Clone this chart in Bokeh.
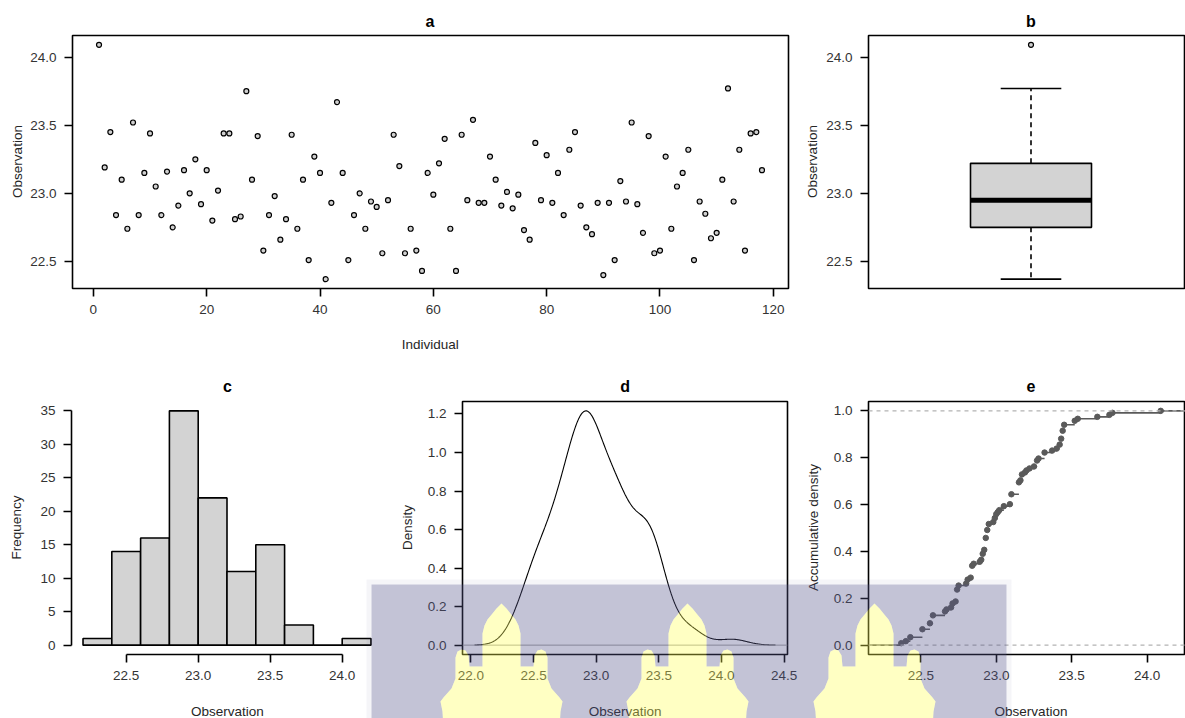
import numpy as np
from bokeh.plotting import figure
from bokeh.layouts import column, row
from bokeh.models import FixedTicker, Span, Range1d, NumeralTickFormatter, GridBox
from bokeh.core.properties import value
from bokeh.embed import file_html
from bokeh.resources import INLINE

# ---------------- data ----------------
observations = [
    24.09, 23.19, 23.45, 22.84, 23.10, 22.74, 23.52, 22.84, 23.15, 23.44,
    23.05, 22.84, 23.16, 22.75, 22.91, 23.17, 23.00, 23.25, 22.92, 23.17,
    22.80, 23.02, 23.44, 23.44, 22.81, 22.83, 23.75, 23.10, 23.42, 22.58,
    22.84, 22.98, 22.66, 22.81, 23.43, 22.74, 23.10, 22.51, 23.27, 23.15,
    22.37, 22.93, 23.67, 23.15, 22.51, 22.84, 23.00, 22.74, 22.94, 22.90,
    22.56, 22.95, 23.43, 23.20, 22.56, 22.74, 22.58, 22.43, 23.15, 22.99,
    23.22, 23.40, 22.74, 22.43, 23.43, 22.95, 23.54, 22.93, 22.93, 23.27,
    23.10, 22.91, 23.01, 22.89, 22.99, 22.73, 22.66, 23.37, 22.95, 23.28,
    22.93, 23.15, 22.84, 23.32, 23.45, 22.91, 22.75, 22.70, 22.93, 22.40,
    22.93, 22.51, 23.09, 22.94, 23.52, 22.92, 22.71, 23.42, 22.56, 22.58,
    23.27, 22.74, 23.05, 23.15, 23.32, 22.51, 22.94, 22.85, 22.67, 22.71,
    23.10, 23.77, 22.94, 23.32, 22.58, 23.44, 23.45, 23.17,
]
individuals = list(range(1, len(observations) + 1))

# boxplot statistics (lower whisker, Q1, median, Q3, upper whisker) and outliers
box_stats = [22.37, 22.75, 22.95, 23.22, 23.77]
box_outliers = [24.09]

# histogram
hist_breaks = [22.2, 22.4, 22.6, 22.8, 23.0, 23.2, 23.4, 23.6, 23.8, 24.0, 24.2]
hist_counts = [1, 14, 16, 35, 22, 11, 15, 3, 0, 1]

# tick values
a_xticks = [0, 20, 40, 60, 80, 100, 120]
obs_ticks = [22.5, 23.0, 23.5, 24.0]
c_xticks = [22.5, 23.0, 23.5, 24.0]
c_yticks = [0, 5, 10, 15, 20, 25, 30, 35]
d_xticks = [22.0, 22.5, 23.0, 23.5, 24.0, 24.5]
d_yticks = [0.0, 0.2, 0.4, 0.6, 0.8, 1.0, 1.2]
e_xticks = [22.5, 23.0, 23.5, 24.0]
e_yticks = [0.0, 0.2, 0.4, 0.6, 0.8, 1.0]

panel_titles = ["a", "b", "c", "d", "e"]
x_titles = ["Individual", "Observation", "Observation", "Observation"]
y_titles = ["Observation", "Observation", "Frequency", "Density", "Accumulative density"]

FONT = "Liberation Sans"
TICK_COLOR = "#333333"
TXT = "13.5px"
obs = np.array(observations)
W, H = 1185, 718


def ext(lo, hi, f=0.04):
    d = (hi - lo) * f
    return lo - d, hi + d


def style(p, outline=True):
    p.background_fill_color = "white"
    p.border_fill_color = "white"
    p.grid.visible = False
    p.outline_line_color = "black" if outline else None
    p.outline_line_width = 1.6
    for ax in (p.xaxis[0], p.yaxis[0]):
        ax.axis_line_color = None if outline else "black"
        ax.axis_line_width = 1.6
        ax.major_tick_line_color = "black"
        ax.major_tick_line_width = 1.6
        ax.major_tick_out = 8
        ax.major_tick_in = 0
        ax.minor_tick_line_color = None
        ax.major_label_text_font = FONT
        ax.major_label_text_font_size = TXT
        ax.major_label_text_color = TICK_COLOR
        ax.major_label_standoff = 8


def make_fig(w, h, l, r, t, b, xr, yr, outline=True):
    p = figure(width=w, height=h, min_border_left=l, min_border_right=r,
               min_border_top=t, min_border_bottom=b, x_range=Range1d(*xr),
               y_range=Range1d(*yr), output_backend="svg", toolbar_location=None)
    style(p, outline)
    return p

obs_range = ext(obs.min(), obs.max())

# ---------------- panel a ----------------
pa = make_fig(800, 360, 72, 12, 35, 72, ext(1, len(observations)), obs_range)
pa.scatter(individuals, observations, size=5, fill_color="#777777", fill_alpha=0.35,
           line_color="black", line_width=1.2)
pa.xaxis.ticker = FixedTicker(ticks=a_xticks)
pa.yaxis.ticker = FixedTicker(ticks=obs_ticks)
pa.yaxis.formatter = NumeralTickFormatter(format="0.0")

# ---------------- panel b ----------------
b_full = 325.0
pb = make_fig(385, 360, 68, 0, 35, 72, (0.5, 0.5 + 317 / b_full), obs_range)
lw, q1, med, q3, uw = box_stats
bh = 60.5 / b_full
ch = 30.3 / b_full
pb.segment(x0=[1, 1], y0=[q3, q1], x1=[1, 1], y1=[uw, lw], line_color="black",
           line_width=1.6, line_dash="5 4")
pb.segment(x0=[1 - ch, 1 - ch], y0=[uw, lw], x1=[1 + ch, 1 + ch], y1=[uw, lw],
           line_color="black", line_width=1.6)
pb.quad(left=[1 - bh], right=[1 + bh], bottom=[q1], top=[q3], fill_color="#D3D3D3",
        line_color="black", line_width=1.6)
pb.segment(x0=[1 - bh], y0=[med], x1=[1 + bh], y1=[med], line_color="black", line_width=5)
pb.scatter([1] * len(box_outliers), box_outliers, size=5, fill_color="#777777",
           fill_alpha=0.35, line_color="black", line_width=1.2)
pb.xaxis.visible = False
pb.yaxis.ticker = FixedTicker(ticks=obs_ticks)
pb.yaxis.formatter = NumeralTickFormatter(format="0.0")

# ---------------- panel c ----------------
pc = make_fig(400, 358, 71, 18, 41, 64, ext(hist_breaks[0], hist_breaks[-1]),
              ext(0, max(hist_counts)), outline=False)
pc.quad(left=hist_breaks[:-1], right=hist_breaks[1:], bottom=0, top=hist_counts,
        fill_color="#D3D3D3", line_color="black", line_width=1.6)
pc.xaxis.ticker = FixedTicker(ticks=c_xticks)
pc.xaxis.formatter = NumeralTickFormatter(format="0.0")
pc.xaxis.bounds = (c_xticks[0], c_xticks[-1])
pc.yaxis.ticker = FixedTicker(ticks=c_yticks)
pc.yaxis.bounds = (c_yticks[0], c_yticks[-1])

# ---------------- panel d (kernel density, R default bw.nrd0) ----------------
n = len(obs)
iqr = np.percentile(obs, 75) - np.percentile(obs, 25)
bw = 0.9 * min(obs.std(ddof=1), iqr / 1.34) * n ** -0.2
dens_x = np.linspace(obs.min() - 3 * bw, obs.max() + 3 * bw, 512)
dens_y = np.exp(-0.5 * ((dens_x[:, None] - obs[None, :]) / bw) ** 2).sum(axis=1) / (n * bw * np.sqrt(2 * np.pi))
pd_ = make_fig(400, 358, 62, 13, 41, 64, ext(dens_x[0], dens_x[-1]), ext(0, dens_y.max()))
pd_.add_layout(Span(location=0, dimension="width", line_color="#a0a0a0", line_width=1))
pd_.line(dens_x, dens_y, line_color="black", line_width=1.1)
pd_.xaxis.ticker = FixedTicker(ticks=d_xticks)
pd_.xaxis.formatter = NumeralTickFormatter(format="0.0")
pd_.yaxis.ticker = FixedTicker(ticks=d_yticks)
pd_.yaxis.formatter = NumeralTickFormatter(format="0.0")

# ---------------- panel e (empirical CDF) ----------------
knots = np.unique(obs)
fvals = np.array([(obs <= k).sum() / n for k in knots])
dr = max(0.08 * (knots[-1] - knots[0]), np.median(np.diff(knots)))
e_lo, e_hi = ext(knots[0] - dr, knots[-1] + dr)
e_full = 325.0
pe = make_fig(385, 358, 68, 0, 41, 64, (e_lo, e_lo + (e_hi - e_lo) * 317 / e_full), ext(0, 1))
for lvl in (0, 1):
    pe.add_layout(Span(location=lvl, dimension="width", line_color="#B3B3B3",
                       line_width=1.3, line_dash="4 4"))
seg_x0 = np.concatenate([[e_lo], knots])
seg_x1 = np.concatenate([knots, [e_hi]])
seg_y = np.concatenate([[0.0], fvals])
pe.segment(x0=seg_x0, y0=seg_y, x1=seg_x1, y1=seg_y, line_color="#5a5a5a", line_width=1.6)
pe.scatter(knots, fvals, size=5.5, fill_color="#5a5a5a", line_color="#5a5a5a")
pe.xaxis.ticker = FixedTicker(ticks=e_xticks)
pe.xaxis.formatter = NumeralTickFormatter(format="0.0")
pe.yaxis.ticker = FixedTicker(ticks=e_yticks)
pe.yaxis.formatter = NumeralTickFormatter(format="0.0")

main = column(row(pa, pb), row(pc, pd_, pe))

# ---------------- transparent overlay: panel titles, axis titles, watermark ----------------
ov = figure(width=W, height=H, x_range=Range1d(0, W), y_range=Range1d(H, 0),
            min_border=0, output_backend="svg", toolbar_location=None)
ov.axis.visible = False
ov.grid.visible = False
ov.outline_line_color = None
ov.background_fill_color = None
ov.border_fill_color = None

title_x = [429.5, 1030.5, 226.9, 624.7, 1030.5]
title_y = [20.5, 20.5, 386, 385.5, 385.5]
ov.text(x=title_x, y=title_y, text=panel_titles, text_font=value(FONT),
        text_font_size=value("16px"), text_font_style="bold", text_color="black",
        text_align="center", text_baseline="middle")
ov.text(x=[429.7, 226.9, 624.7, 1030.5], y=[343.5, 710.5, 710.5, 710.5], text=x_titles,
        text_font=value(FONT), text_font_size=value(TXT), text_color="#262626",
        text_align="center", text_baseline="middle")
ov.text(x=[16.7, 812.3, 16, 406.7, 813.3], y=[161, 161, 527, 527, 527], text=y_titles,
        angle=np.pi / 2, text_font=value(FONT), text_font_size=value(TXT),
        text_color="#262626", text_align="center", text_baseline="middle")

leaf_half = [(0, 0), (5, 5), (9, 10), (14, 16), (17, 22), (19, 30), (19, 45), (19, 63),
             (32, 63), (33, 52), (36, 47), (40, 46), (44, 48), (46, 54), (46, 75),
             (50, 85), (58, 94), (61, 98), (59, 108), (58, 125)]
leaf_centers = [874, 687, 501]
leaf_top = 603
wm_box = (371, 584, 1006, 725)

# soft light rim around the watermark
rim = 5
ov.quad(left=[wm_box[0] - rim, wm_box[0] - rim, wm_box[2]],
        right=[wm_box[2] + rim, wm_box[0], wm_box[2] + rim],
        top=[wm_box[1] - rim, wm_box[1], wm_box[1]],
        bottom=[wm_box[1], wm_box[3], wm_box[3]],
        fill_color="#54548a", fill_alpha=0.06, line_color=None)

lav = [(wm_box[0], wm_box[1]), (wm_box[2], wm_box[1]), (wm_box[2], wm_box[3])]
leaves = []
for cx in leaf_centers:
    right_up = [(cx + dx, leaf_top + dy) for dx, dy in reversed(leaf_half)]
    left_down = [(cx - dx, leaf_top + dy) for dx, dy in leaf_half[1:]]
    lav += right_up + left_down
    leaves.append(right_up + left_down)
lav.append((wm_box[0], wm_box[3]))

ov.patch([x for x, _ in lav], [y for _, y in lav], fill_color="#54548a", fill_alpha=0.35,
         line_color=None)
ov.patches([[x for x, _ in lf] for lf in leaves], [[y for _, y in lf] for lf in leaves],
           fill_color="#ffff54", fill_alpha=0.35, line_color=None)

layout = GridBox(children=[(main, 0, 0), (ov, 0, 0)])
open("out.html", "w").write(file_html(layout, INLINE))
